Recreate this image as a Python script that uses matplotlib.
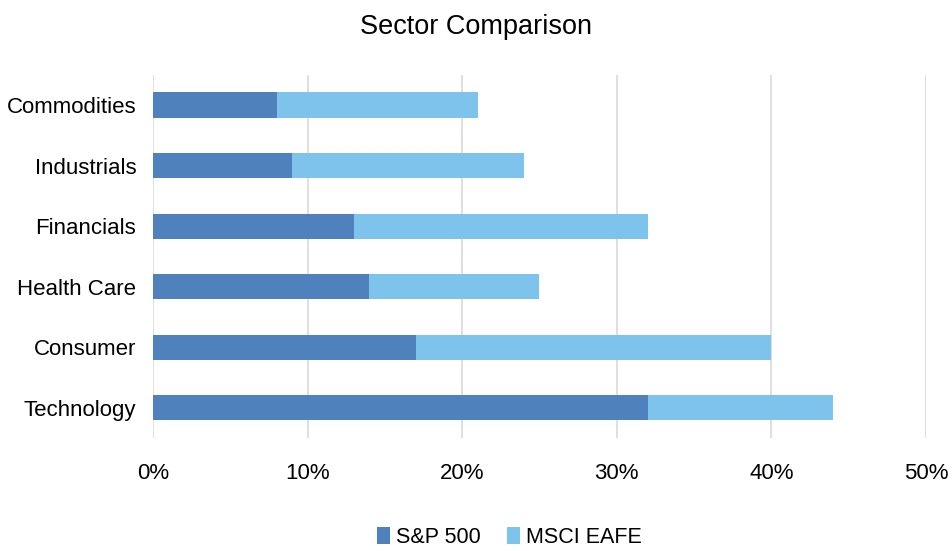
import matplotlib
matplotlib.use("Agg")
import matplotlib.pyplot as plt
from matplotlib.ticker import FuncFormatter

sectors = ["Technology", "Consumer", "Health Care", "Financials", "Industrials", "Commodities"]
sp500 = [32, 17, 14, 13, 9, 8]
eafe = [12, 23, 11, 19, 15, 13]
xticks = [0, 10, 20, 30, 40, 50]

plt.rcParams["font.family"] = ["Liberation Sans", "DejaVu Sans"]

fig = plt.figure(figsize=(9.52, 5.51), dpi=100)
ax = fig.add_axes([0.1607, 0.205, 0.8120, 0.659])

ax.barh(sectors, sp500, height=0.42, color="#4F81BD", label="S&P 500", zorder=3)
ax.barh(sectors, eafe, left=sp500, height=0.42, color="#7EC3EC", label="MSCI EAFE", zorder=3)

ax.set_xlim(0, 50)
ax.set_ylim(-0.5, 5.5)
ax.set_xticks(xticks)
ax.xaxis.set_major_formatter(FuncFormatter(lambda v, _: f"{v:.0f}%"))
ax.grid(axis="x", color="#D9D9D9", linewidth=1.2, zorder=0)
for s in ax.spines.values():
    s.set_visible(False)
ax.tick_params(length=0, labelsize=16, colors="black")
ax.tick_params(axis="x", pad=18)
ax.tick_params(axis="y", pad=12)

fig.suptitle("Sector Comparison", fontsize=19.5, y=0.975)
fig.legend(loc="lower center", ncol=2, frameon=False, fontsize=15.5,
           bbox_to_anchor=(0.535, -0.03), handlelength=0.6, handleheight=0.85,
           handletextpad=0.3, columnspacing=1.2)

fig.savefig("out.png", dpi=100)
